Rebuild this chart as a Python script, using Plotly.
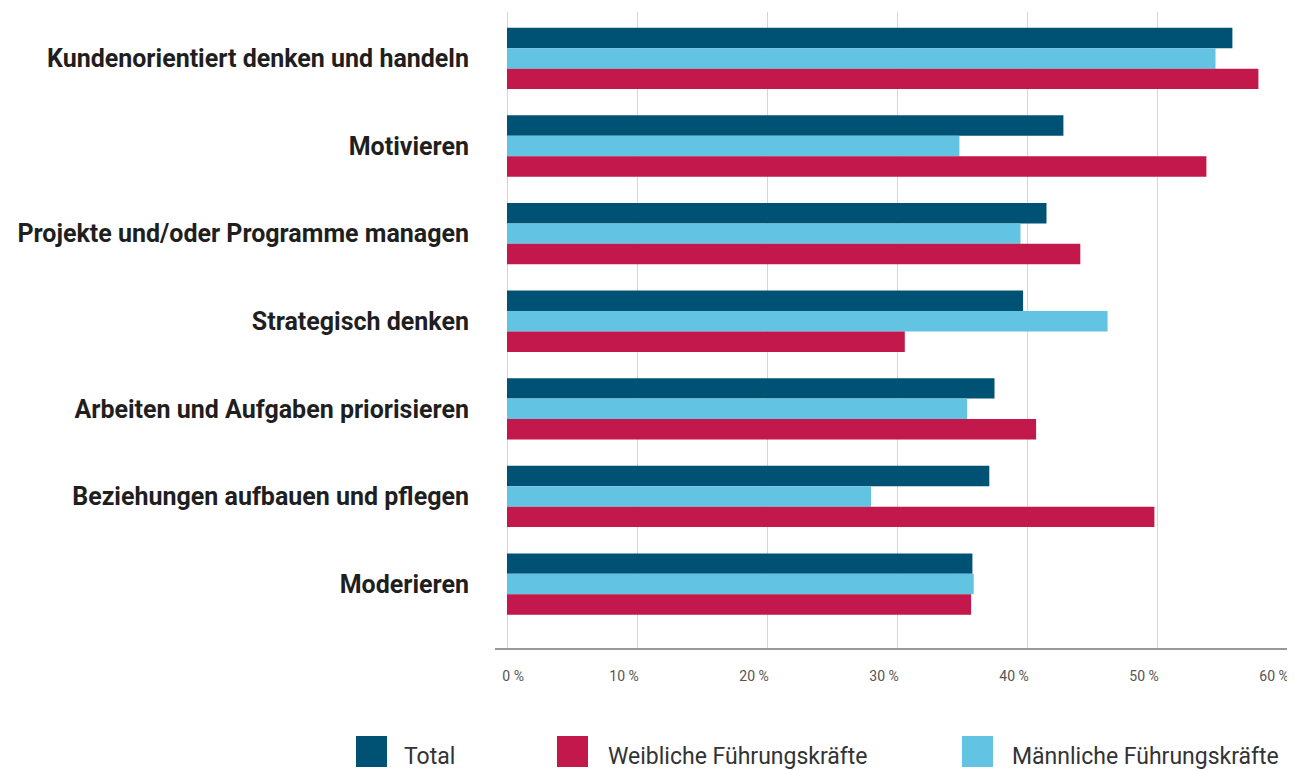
import plotly.graph_objects as go

categories = [
    "Kundenorientiert denken und handeln",
    "Motivieren",
    "Projekte und/oder Programme managen",
    "Strategisch denken",
    "Arbeiten und Aufgaben priorisieren",
    "Beziehungen aufbauen und pflegen",
    "Moderieren",
]
total = [55.8, 42.8, 41.5, 39.7, 37.5, 37.1, 35.8]
maennlich = [54.5, 34.8, 39.5, 46.2, 35.4, 28.0, 35.9]
weiblich = [57.8, 53.8, 44.1, 30.6, 40.7, 49.8, 35.7]

tick_vals = [0, 10, 20, 30, 40, 50, 60]
tick_text = ["0 %", "10 %", "20 %", "30 %", "40 %", "50 %", "60 %"]

C_TOTAL = "#005274"
C_W = "#c2184b"
C_M = "#62c3e2"

fig = go.Figure()
for name, vals, col in [
    ("Total", total, C_TOTAL),
    ("Männliche Führungskräfte", maennlich, C_M),
    ("Weibliche Führungskräfte", weiblich, C_W),
]:
    fig.add_trace(go.Bar(
        y=categories, x=vals, orientation="h", name=name,
        marker=dict(color=col, line=dict(width=0)),
        showlegend=False,
    ))

# page is offset by the default 8px body margin
OFF = 8
W, H = 1295, 770
PLOT_L, PLOT_R, PLOT_T, PLOT_B = 495, 1295, 12, 648   # page pixels
L = PLOT_L - OFF
R = W - (PLOT_R - OFF)
T = PLOT_T - OFF
B = H - (PLOT_B - OFF)
pw, ph = W - L - R, H - T - B

def px_x(p):
    return (p - PLOT_L) / pw

def px_y(p):
    return (PLOT_B - p) / ph

# first label sits right of its gridline in the original, others sit left
shown_ticks = ["\u00a0" * 11 + tick_text[0]] + tick_text[1:]

fig.update_layout(
    width=W, height=H,
    margin=dict(l=L, r=R, t=T, b=B),
    paper_bgcolor="white", plot_bgcolor="white",
    barmode="group", bargap=0.30, bargroupgap=0,
    font=dict(family="Roboto, Arial, sans-serif"),
    xaxis=dict(
        range=[-12 / 13, 60 + 8 / 13],
        tickvals=tick_vals, ticktext=shown_ticks,
        showgrid=True, gridcolor="rgba(150,150,150,0.4)", gridwidth=1,
        layer="above traces", zeroline=False,
        showline=True, linecolor="#999999", linewidth=2,
        ticks="", ticklabelstandoff=14, ticklabelshift=-13,
        tickfont=dict(family="Roboto, sans-serif", size=14, color="#555555"),
        fixedrange=True,
    ),
    yaxis=dict(
        type="category",
        categoryorder="array", categoryarray=categories,
        range=[6.73, -0.53],
        showgrid=False, zeroline=False, showline=False,
        ticks="", ticklabelstandoff=25,
        tickfont=dict(family="Roboto, Arial, sans-serif", size=25, color="#1f1f1f", weight="bold"),
        fixedrange=True,
    ),
)

# custom legend (large square swatches), positions in page pixels
legend_items = [
    ("Total", C_TOTAL, 356, 402),
    ("Weibliche Führungskräfte", C_W, 557, 606),
    ("Männliche Führungskräfte", C_M, 962, 1010),
]
for label, col, sx, tx in legend_items:
    fig.add_shape(type="rect", xref="paper", yref="paper",
                  x0=px_x(sx), x1=px_x(sx + 31), y0=px_y(767), y1=px_y(736),
                  fillcolor=col, line=dict(width=0))
    fig.add_annotation(text=label, xref="paper", yref="paper",
                       x=px_x(tx), y=px_y(757), xanchor="left", yanchor="middle",
                       showarrow=False,
                       font=dict(family="Roboto, sans-serif", size=23, color="#333333"))

fig.write_html("out.html")
